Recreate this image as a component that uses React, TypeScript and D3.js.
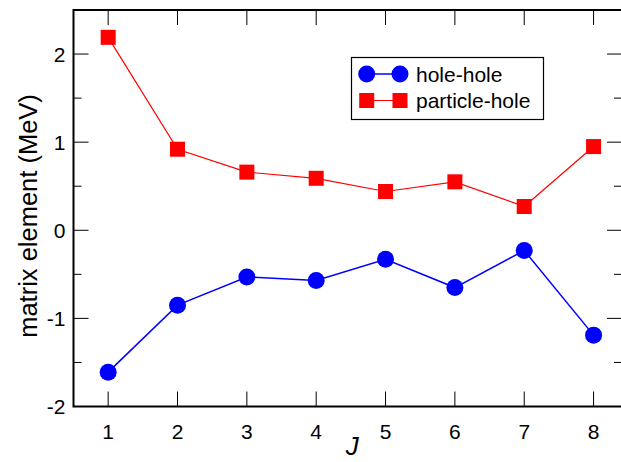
import React from "react";
import * as d3 from "d3";

const J = [1, 2, 3, 4, 5, 6, 7, 8];
const holeHole = [-1.61, -0.85, -0.53, -0.57, -0.33, -0.65, -0.23, -1.19];
const particleHole = [2.19, 0.92, 0.66, 0.59, 0.44, 0.55, 0.27, 0.95];
const yTicks = [-2, -1, 0, 1, 2];
const yMinorTicks = [-1.5, -0.5, 0.5, 1.5, 2.5];
const legendLabels = ["hole-hole", "particle-hole"];

const W = 621;
const H = 462;
const left = 73.5;
const right = 622;
const top = 10;
const bottom = 406.5;

const FONT = "'Liberation Sans', Arial, Helvetica, sans-serif";

export default function App() {
  const x = d3.scaleLinear().domain([0.5, 8.41]).range([left, right]);
  const y = d3.scaleLinear().domain([-2, 2.5]).range([bottom, top]);

  const line = d3
    .line<number>()
    .x((_, i) => x(J[i]))
    .y((d) => y(d));

  const sq = 15;
  const r = 8.5;

  const lgX = 351.5;
  const lgY = 57.5;

  return (
    <svg
      width={W}
      height={H}
      style={{ position: "absolute", left: 0, top: 0, background: "#fff" }}
      fontFamily={FONT}
    >
      <rect x={0} y={0} width={W} height={H} fill="#fff" />

      {/* frame */}
      <rect
        x={left}
        y={top}
        width={right - left}
        height={bottom - top}
        fill="none"
        stroke="#000"
        strokeWidth={2}
      />

      {/* x ticks top and bottom */}
      {J.map((j) => (
        <g key={"xt" + j}>
          <line x1={x(j)} x2={x(j)} y1={bottom} y2={bottom - 15} stroke="#000" strokeWidth={1} />
          <line x1={x(j)} x2={x(j)} y1={top} y2={top + 15} stroke="#000" strokeWidth={1} />
          <text x={x(j)} y={bottom + 32} textAnchor="middle" fontSize={21} fill="#000">
            {j}
          </text>
        </g>
      ))}

      {/* y ticks left and right */}
      {yTicks.map((t) => (
        <g key={"yt" + t}>
          <line x1={left} x2={left + 15} y1={y(t)} y2={y(t)} stroke="#000" strokeWidth={1} />
          <line x1={right} x2={right - 15} y1={y(t)} y2={y(t)} stroke="#000" strokeWidth={1} />
          <text x={left - 8} y={y(t) + 7.5} textAnchor="end" fontSize={21} fill="#000">
            {t}
          </text>
        </g>
      ))}
      {yMinorTicks.map((t) => (
        <g key={"ym" + t}>
          <line x1={left} x2={left + 8} y1={y(t)} y2={y(t)} stroke="#000" strokeWidth={1} />
          <line x1={right} x2={right - 8} y1={y(t)} y2={y(t)} stroke="#000" strokeWidth={1} />
        </g>
      ))}

      {/* axis titles */}
      <text
        transform={`translate(37, 216) rotate(-90)`}
        textAnchor="middle"
        fontSize={25.5}
        fill="#000"
      >
        matrix element (MeV)
      </text>
      <text
        x={(left + 621) / 2 + 5}
        y={455}
        textAnchor="middle"
        fontSize={26}
        fontStyle="italic"
        fill="#000"
      >
        J
      </text>

      {/* hole-hole series */}
      <path d={line(holeHole) || ""} fill="none" stroke="#0000ff" strokeWidth={1.5} />
      {holeHole.map((v, i) => (
        <circle key={"hh" + i} cx={x(J[i])} cy={y(v)} r={r} fill="#0000ff" />
      ))}

      {/* particle-hole series */}
      <path d={line(particleHole) || ""} fill="none" stroke="#ff0000" strokeWidth={1.2} />
      {particleHole.map((v, i) => (
        <rect
          key={"ph" + i}
          x={x(J[i]) - sq / 2}
          y={y(v) - sq / 2}
          width={sq}
          height={sq}
          fill="#ff0000"
        />
      ))}

      {/* legend */}
      <rect x={lgX} y={lgY} width={192} height={62} fill="#fff" stroke="#000" strokeWidth={1.2} />
      <line x1={366.7} x2={400} y1={74} y2={74} stroke="#0000ff" strokeWidth={1.5} />
      <circle cx={366.7} cy={74} r={r} fill="#0000ff" />
      <circle cx={400} cy={74} r={r} fill="#0000ff" />
      <text x={416} y={81.5} fontSize={21} fill="#000">
        {legendLabels[0]}
      </text>
      <line x1={366.7} x2={400} y1={100.5} y2={100.5} stroke="#ff0000" strokeWidth={1.2} />
      <rect x={366.7 - sq / 2} y={100.5 - sq / 2} width={sq} height={sq} fill="#ff0000" />
      <rect x={400 - sq / 2} y={100.5 - sq / 2} width={sq} height={sq} fill="#ff0000" />
      <text x={416} y={108} fontSize={21} fill="#000">
        {legendLabels[1]}
      </text>
    </svg>
  );
}
